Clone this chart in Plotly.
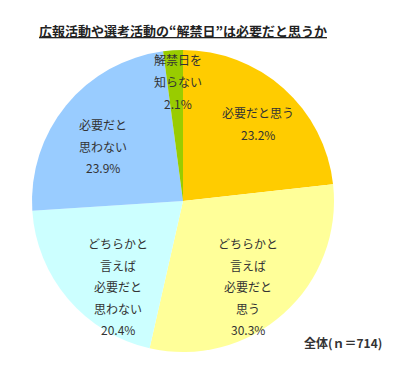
import plotly.graph_objects as go

# ---- data ----
categories = [
    "必要だと思う",
    "どちらかと言えば必要だと思う",
    "どちらかと言えば必要だと思わない",
    "必要だと思わない",
    "解禁日を知らない",
]
values = [23.2, 30.3, 20.4, 23.9, 2.1]
label_lines = [
    ["必要だと思う"],
    ["どちらかと", "言えば", "必要だと", "思う"],
    ["どちらかと", "言えば", "必要だと", "思わない"],
    ["必要だと", "思わない"],
    ["解禁日を", "知らない"],
]
title_text = "広報活動や選考活動の“解禁日”は必要だと思うか"
note_text = "全体(ｎ＝714)"

# ---- style ----
W, H = 400, 376
colors = ["#FFCC00", "#FFFF99", "#CCFFFF", "#99CCFF", "#99CC00"]
label_centers_px = [(258, 123.5), (248, 286.5), (118, 286.5), (103, 146), (178, 81.5)]
line_gap = 21.5
font_family = "Noto Sans CJK JP, Noto Sans, sans-serif"
text_color = "#333333"

pie_left, pie_right, pie_top, pie_bottom = 32, 334, 50, 352

fig = go.Figure(
    go.Pie(
        labels=categories,
        values=values,
        sort=False,
        direction="clockwise",
        rotation=0,
        marker=dict(colors=colors, line=dict(width=0)),
        textinfo="none",
        hoverinfo="skip",
        showlegend=False,
        domain=dict(
            x=[pie_left / W, pie_right / W],
            y=[1 - pie_bottom / H, 1 - pie_top / H],
        ),
    )
)

annotations = []
for lines, val, (cx, cy) in zip(label_lines, values, label_centers_px):
    all_lines = lines + [f"{val:.1f}%"]
    n = len(all_lines)
    for i, t in enumerate(all_lines):
        py = cy + (i - (n - 1) / 2) * line_gap
        annotations.append(
            dict(
                x=cx / W, y=1 - py / H, xref="paper", yref="paper",
                text=t, showarrow=False, xanchor="center", yanchor="middle",
                font=dict(size=12, color=text_color, family=font_family),
            )
        )

annotations.append(
    dict(
        x=37 / W, y=1 - 31 / H, xref="paper", yref="paper",
        text=f"<b><u>{title_text}</u></b>", showarrow=False,
        xanchor="left", yanchor="middle",
        font=dict(size=13, color="#222222", family=font_family),
    )
)
annotations.append(
    dict(
        x=384 / W, y=1 - 342 / H, xref="paper", yref="paper",
        text=f"<b>{note_text}</b>", showarrow=False,
        xanchor="right", yanchor="middle",
        font=dict(size=12, color="#333333", family=font_family),
    )
)

fig.update_layout(
    width=W, height=H,
    margin=dict(l=0, r=0, t=0, b=0),
    paper_bgcolor="white",
    plot_bgcolor="white",
    annotations=annotations,
)

fig.write_html(
    "out.html",
    config={"displayModeBar": False},
    post_script="document.body.style.margin='0';",
)
